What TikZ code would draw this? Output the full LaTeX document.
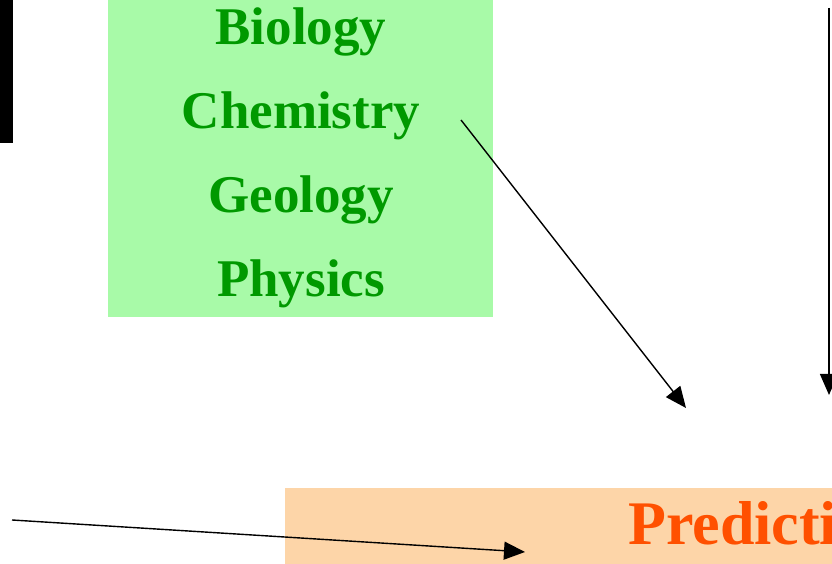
\documentclass[tikz,border=0pt]{standalone}
\usepackage{fontspec}
\setmainfont{Liberation Serif}
\usetikzlibrary{arrows.meta}
\definecolor{scibg}{RGB}{168,250,168}
\definecolor{scifg}{RGB}{0,153,0}
\definecolor{predbg}{RGB}{253,213,168}
\definecolor{predfg}{RGB}{255,80,0}
\tikzset{
  subj/.style={anchor=base,inner sep=0pt,text=scifg,font=\fontsize{53}{60}\selectfont\bfseries},
  predtext/.style={anchor=base west,inner sep=0pt,text=predfg,font=\fontsize{62}{70}\selectfont\bfseries},
  conn/.style={line width=1.4pt,-{Triangle[length=21pt,width=18pt]}}
}
\begin{document}
\begin{tikzpicture}[x=1pt,y=1pt]
\useasboundingbox (0,0) rectangle (832,564);
\fill[white] (0,0) rectangle (832,564);
% black bar
\fill[black] (0,421) rectangle (13,564);
% green box
\node[fill=scibg,inner sep=0pt,minimum width=385pt,minimum height=317pt,anchor=south west] (sci) at (108,247) {};
\node[subj] (bio) at (301,519) {Biology};
\node[subj] (chem) at (301,435) {Chemistry};
\node[subj] (geo) at (301,351) {Geology};
\node[subj] (phys) at (301,267) {Physics};
% orange box
\node[fill=predbg,inner sep=0pt,minimum width=547pt,minimum height=76pt,anchor=south west] (pred) at (285,0) {};
\node[predtext] (predt) at (628,19) {Predicti};
% connectors
\coordinate (d1) at (461,444);
\coordinate (d2) at (686,156);
\coordinate (v1) at (829,556);
\coordinate (v2) at (829,169);
\coordinate (b1) at (12,44);
\coordinate (b2) at (525,12);
\draw[conn] (d1) -- (d2);
\draw[conn] (v1) -- (v2);
\draw[conn] (b1) -- (b2);
\end{tikzpicture}
\end{document}
